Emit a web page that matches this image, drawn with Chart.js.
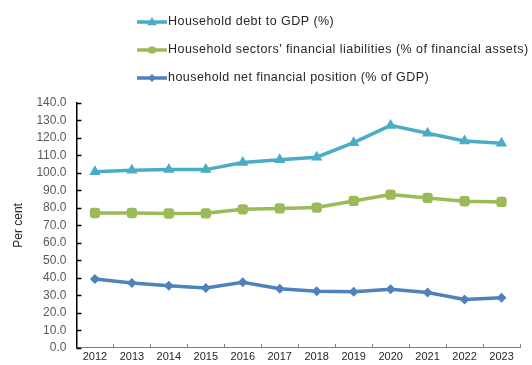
<!DOCTYPE html>
<html>
<head>
<meta charset="utf-8">
<script src="https://cdn.jsdelivr.net/npm/chart.js@4"></script>
<style>
  html, body { margin: 0; padding: 0; background: #fff; }
  #wrap { position: relative; width: 532px; height: 365px; }
</style>
</head>
<body>
<div id="wrap"><canvas id="c" width="532" height="365"></canvas></div>
<script>
const years = ['2012','2013','2014','2015','2016','2017','2018','2019','2020','2021','2022','2023'];
const debtToGdp = [100.7, 101.6, 101.9, 101.9, 106.0, 107.6, 109.0, 117.3, 127.2, 122.7, 118.3, 117.0];
const liabilitiesToAssets = [77.1, 77.1, 76.8, 76.9, 79.2, 79.7, 80.2, 84.0, 87.6, 85.7, 83.8, 83.4];
const netFinancialPosition = [39.4, 37.0, 35.5, 34.2, 37.5, 33.8, 32.4, 32.1, 33.5, 31.6, 27.6, 28.6];
const seriesNames = [
  'Household debt to GDP (%)',
  "Household sectors' financial liabilities (% of financial assets)",
  'household net financial position (% of GDP)'
];
const yTicks = { min: 0, max: 140, step: 10 };

const FONT = '"Liberation Sans", Arial, sans-serif';

function marker(ctx, style, x, y, r, color) {
  ctx.save();
  ctx.fillStyle = color;
  ctx.beginPath();
  if (style === 'triangle') {
    ctx.moveTo(x, y - r);
    ctx.lineTo(x + r * 0.95, y + r * 0.65);
    ctx.lineTo(x - r * 0.95, y + r * 0.65);
    ctx.closePath();
  } else if (style === 'rectRounded') {
    const s = r * 0.9;
    ctx.roundRect(x - s, y - s, 2 * s, 2 * s, 2);
  } else {
    ctx.moveTo(x, y - r);
    ctx.lineTo(x + r, y);
    ctx.lineTo(x, y + r);
    ctx.lineTo(x - r, y);
    ctx.closePath();
  }
  ctx.fill();
  ctx.restore();
}

// legend stacked in three rows above the plot
const stackedLegend = {
  id: 'stackedLegend',
  afterDraw(chart) {
    const ctx = chart.ctx;
    const rows = [22, 50, 78];
    chart.data.datasets.forEach((ds, i) => {
      const y = rows[i];
      ctx.save();
      ctx.strokeStyle = ds.borderColor;
      ctx.lineWidth = 3.5;
      ctx.beginPath();
      ctx.moveTo(137, y);
      ctx.lineTo(167, y);
      ctx.stroke();
      ctx.restore();
      marker(ctx, ds.pointStyle, 152, y, ds.pointStyle === 'triangle' ? 5 : 4, ds.borderColor);
      ctx.save();
      ctx.fillStyle = '#262626';
      ctx.font = '12.5px ' + FONT;
      ctx.letterSpacing = '0.45px';
      ctx.textBaseline = 'middle';
      ctx.textAlign = 'left';
      ctx.fillText(ds.label, 168, y);
      ctx.restore();
    });
  }
};

// short tick marks pointing into the plot
const innerTicks = {
  id: 'innerTicks',
  afterDraw(chart) {
    const ctx = chart.ctx;
    const ys = chart.scales.y;
    const a = chart.chartArea;
    ctx.save();
    ctx.lineWidth = 1.5;
    ctx.strokeStyle = '#000';
    ys.ticks.forEach((t, i) => {
      const y = Math.round(ys.getPixelForTick(i)) + 0.5;
      ctx.beginPath();
      ctx.moveTo(a.left, y);
      ctx.lineTo(a.left + 5, y);
      ctx.stroke();
    });
    ctx.strokeStyle = '#808080';
    ctx.lineWidth = 1;
    const w = (a.right - a.left) / years.length;
    for (let i = 1; i <= years.length; i++) {
      const x = Math.round(a.left + i * w) + 0.5;
      ctx.beginPath();
      ctx.moveTo(x, a.bottom);
      ctx.lineTo(x, a.bottom - 4);
      ctx.stroke();
    }
    ctx.restore();
  }
};

const common = { borderWidth: 3.5, pointBorderWidth: 0, tension: 0, fill: false };

new Chart(document.getElementById('c'), {
  type: 'line',
  data: {
    labels: years,
    datasets: [
      Object.assign({ label: seriesNames[0], data: debtToGdp, borderColor: '#4BACC6', backgroundColor: '#4BACC6',
        pointStyle: 'triangle', pointRadius: 6.5 }, common),
      Object.assign({ label: seriesNames[1], data: liabilitiesToAssets, borderColor: '#9BBB59', backgroundColor: '#9BBB59',
        pointStyle: 'rectRounded', pointRadius: 6 }, common),
      Object.assign({ label: seriesNames[2], data: netFinancialPosition, borderColor: '#4F81BD', backgroundColor: '#4F81BD',
        pointStyle: 'rectRot', pointRadius: 5 }, common)
    ]
  },
  options: {
    responsive: false,
    animation: false,
    layout: { padding: { top: 103, right: 12, left: 11, bottom: -3 } },
    plugins: { legend: { display: false }, tooltip: { enabled: false } },
    scales: {
      x: {
        offset: true,
        grid: { display: false, offset: true, drawTicks: false, tickLength: 0 },
        border: { display: true, color: '#808080', width: 1 },
        ticks: { color: '#262626', font: { family: FONT, size: 11 }, padding: 3, maxRotation: 0, autoSkip: false }
      },
      y: {
        min: yTicks.min, max: yTicks.max,
        grid: { display: false, drawTicks: false, tickLength: 0 },
        border: { display: true, color: '#000', width: 1.5 },
        ticks: { stepSize: yTicks.step, autoSkip: false, color: '#595959', font: { family: FONT, size: 12 }, padding: 10,
          callback: v => Number(v).toFixed(1) },
        title: { display: true, text: 'Per cent', color: '#262626', font: { family: FONT, size: 12 }, padding: { top: 0, bottom: 1 } }
      }
    }
  },
  plugins: [stackedLegend, innerTicks]
});
</script>
</body>
</html>
